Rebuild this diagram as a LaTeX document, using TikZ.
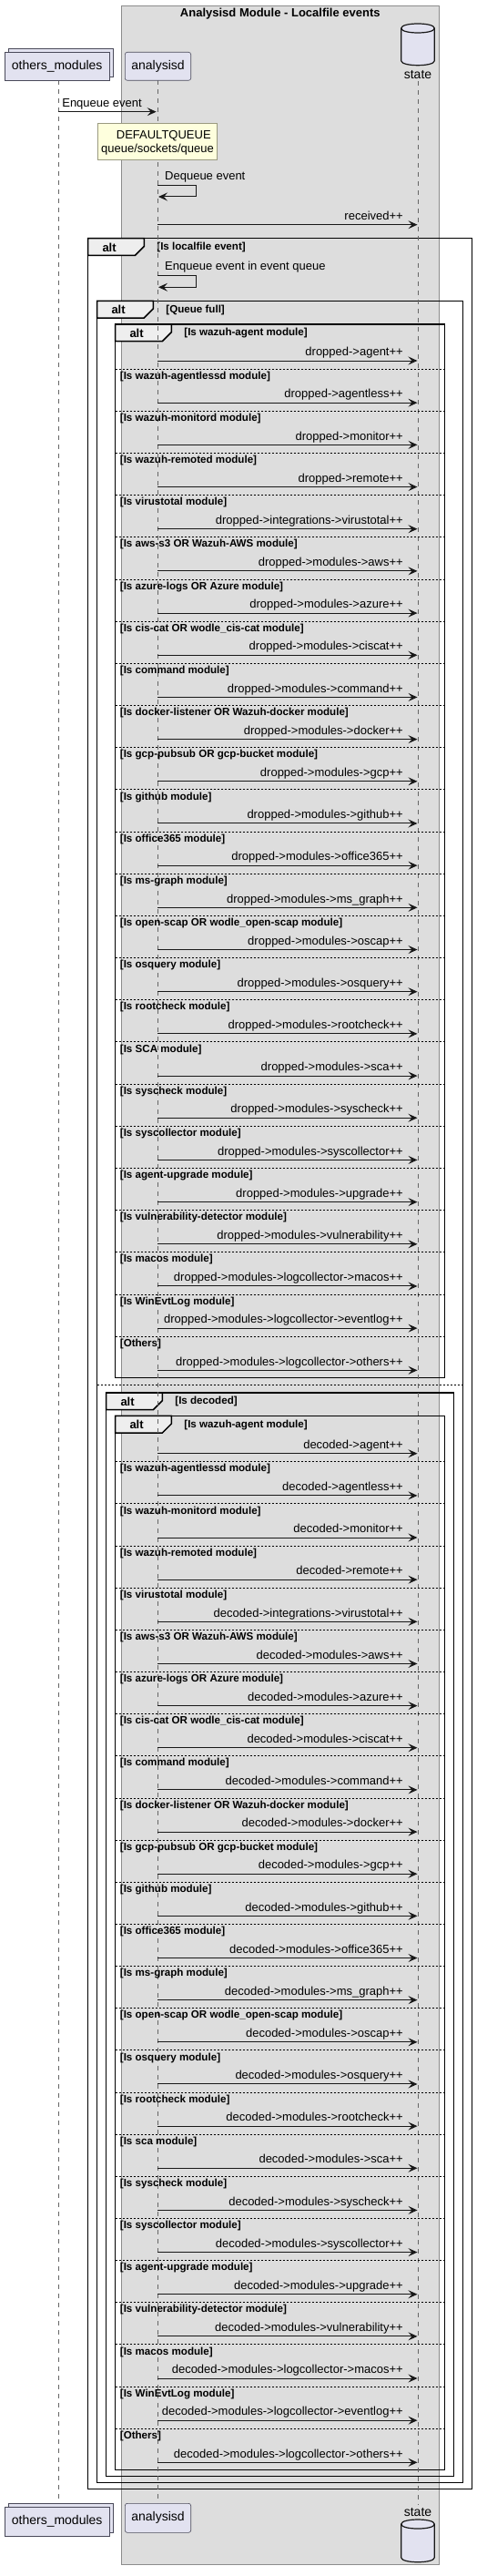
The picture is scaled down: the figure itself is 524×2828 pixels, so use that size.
\documentclass[tikz,border=0pt]{standalone}
\usepackage{fontspec}
\setmainfont{Liberation Sans}
\usetikzlibrary{arrows.meta}
\definecolor{boxbg}{HTML}{DDDDDD}
\definecolor{boxline}{HTML}{8C8C8C}
\definecolor{partfill}{HTML}{E2E2F0}
\definecolor{partline}{HTML}{4A4A5A}
\definecolor{notefill}{HTML}{FEFFDD}
\definecolor{noteline}{HTML}{9A9A80}
\definecolor{tabfill}{HTML}{EEEEEE}
\definecolor{inkc}{HTML}{181818}
\newcommand\msgfont{\fontsize{13}{15}\selectfont}
\newcommand\partfont{\fontsize{14}{16}\selectfont}
\newcommand\condfont{\fontsize{11.6}{13}\selectfont\bfseries}
\newcommand\altfont{\fontsize{13}{15}\selectfont\bfseries}
\tikzset{
 msgline/.style={draw=inkc, line width=1pt, -{Stealth[length=10pt,width=9pt,inset=4pt]}},
 msglabel/.style={inner sep=0pt, font=\msgfont, text=black},
 condtxt/.style={inner sep=0pt, font=\condfont},
 alttxt/.style={inner sep=0pt, font=\altfont},
 altframe/.style={draw=black, line width=1.5pt},
 tabshape/.style={fill=tabfill, draw=black, line width=1.5pt, line join=miter},
 sepline/.style={draw=black, line width=0.8pt, dash pattern=on 2pt off 2pt},
 lifeline/.style={draw=black!60, line width=0.8pt, dash pattern=on 5pt off 5pt},
 partbox/.style={draw=partline, fill=partfill, line width=0.6pt, inner sep=0pt, font=\partfont},
 dbshape/.style={draw=inkc, fill=partfill, line width=1.2pt},
}
% alt frame: L, T, R, B, condition, name
\newcommand\altbox[6]{%
  \draw[altframe] (#1,#2) rectangle (#3,#4);
  \draw[tabshape] (#1,#2) -- (#1+61.6,#2) -- (#1+61.6,#2+8.7) -- (#1+51.6,#2+18.7) -- (#1,#2+18.7) -- cycle;
  \node[alttxt, anchor=base west] (#6alt) at (#1+15.6,#2+14.5) {alt};
  \node[condtxt, anchor=base west] (#6cond) at (#1+75.5,#2+12.8) {[#5]};
}
% block of messages: prefix, word, y0, period, sca text
\newcommand\msgblock[5]{%
 \foreach \lab/\cond [count=\i from 0] in {%
   {agent++}/{Is wazuh-agent module},
   {agentless++}/{Is wazuh-agentlessd module},
   {monitor++}/{Is wazuh-monitord module},
   {remote++}/{Is wazuh-remoted module},
   {integrations->virustotal++}/{Is virustotal module},
   {modules->aws++}/{Is aws-s3 OR Wazuh-AWS module},
   {modules->azure++}/{Is azure-logs OR Azure module},
   {modules->ciscat++}/{Is cis-cat OR wodle\_cis-cat module},
   {modules->command++}/{Is command module},
   {modules->docker++}/{Is docker-listener OR Wazuh-docker module},
   {modules->gcp++}/{Is gcp-pubsub OR gcp-bucket module},
   {modules->github++}/{Is github module},
   {modules->office365++}/{Is office365 module},
   {modules->ms\_graph++}/{Is ms-graph module},
   {modules->oscap++}/{Is open-scap OR wodle\_open-scap module},
   {modules->osquery++}/{Is osquery module},
   {modules->rootcheck++}/{Is rootcheck module},
   {modules->sca++}/{Is #5 module},
   {modules->syscheck++}/{Is syscheck module},
   {modules->syscollector++}/{Is syscollector module},
   {modules->upgrade++}/{Is agent-upgrade module},
   {modules->vulnerability++}/{Is vulnerability-detector module},
   {modules->logcollector->macos++}/{Is macos module},
   {modules->logcollector->eventlog++}/{Is WinEvtLog module},
   {modules->logcollector->others++}/{Others}%
 }{%
   \pgfmathsetmacro\myy{#3+#4*\i}%
   \coordinate (#1a\i) at (173,\myy);
   \coordinate (#1b\i) at (458.5,\myy);
   \draw[msgline] (#1a\i) -- (#1b\i);
   \node[msglabel, anchor=base east] (#1l\i) at (443,\myy-5.3) {#2->\lab};
   \ifnum\i>0
     \pgfmathsetmacro\mys{\myy-#4+9}%
     \coordinate (#1p\i) at (126.7,\mys);
     \coordinate (#1q\i) at (488.7,\mys);
     \draw[sepline] (#1p\i) -- (#1q\i);
     \node[condtxt, anchor=base west] (#1c\i) at (131.7,\mys+11.2) {[\cond]};
   \fi
 }%
}
\begin{document}
\begin{tikzpicture}[x=1pt,y=-1pt]
\useasboundingbox (0,0) rectangle (524,2828);
\fill[white] (0,0) rectangle (524,2828);
% group box
\path[fill=boxbg, draw=boxline, line width=0.8pt] (133.3,6) rectangle (482.3,2815.7);
\node[alttxt] (title) at (307.8,15) {Analysisd Module - Localfile events};

% alt frames
\altbox{96.7}{261.7}{518.3}{2732.3}{Is localfile event}{fLF}
\altbox{106.7}{330.3}{508.3}{2725.7}{Queue full}{fQF}
\altbox{126.7}{356}{488.7}{1512.3}{Is wazuh-agent module}{fIA}
\coordinate (qfsepL) at (106.7,1520.7);
\coordinate (qfsepR) at (508.3,1520.7);
\draw[sepline] (qfsepL) -- (qfsepR);
\altbox{116.7}{1529}{498.3}{2718.7}{Is decoded}{fDC}
\altbox{126.7}{1554.3}{488.7}{2711.7}{Is wazuh-agent module}{fIB}

% lifelines
\coordinate (omTop) at (64.3,88);
\coordinate (omBot) at (64.3,2748.3);
\coordinate (anTop) at (173,88.3);
\coordinate (anBot) at (173,2748.3);
\coordinate (stTop) at (459.3,89);
\coordinate (stBot) at (459.3,2750);
\draw[lifeline] (omTop) -- (omBot);
\draw[lifeline] (anTop) -- (anBot);
\draw[lifeline] (stTop) -- (stBot);

% participants top
\node[partbox, minimum width=114.7pt, minimum height=31pt] (omTback) at (66.65,68.5) {};
\node[partbox, minimum width=114.7pt, minimum height=31pt] (omT) at (62.65,72.5) {others\_modules};
\node[partbox, rounded corners=2.5pt, minimum width=72.4pt, minimum height=31pt] (anT) at (173.5,72.8) {analysisd};
\path[dbshape] (440.7,31) -- (440.7,66.7) .. controls (440.7,73.37) and (477.3,73.37) .. (477.3,66.7) -- (477.3,31) .. controls (477.3,24.33) and (440.7,24.33) .. (440.7,31) -- cycle;
\draw[dbshape, fill=none] (440.7,31) .. controls (440.7,37.67) and (477.3,37.67) .. (477.3,31);
\node[msglabel, font=\partfont] (stT) at (459,82) {state};

% participants bottom
\node[partbox, minimum width=114.7pt, minimum height=31.7pt] (omBback) at (66.65,2764.15) {};
\node[partbox, minimum width=114.7pt, minimum height=31.7pt] (omB) at (62.65,2768.15) {others\_modules};
\node[partbox, rounded corners=2.5pt, minimum width=72.4pt, minimum height=32pt] (anB) at (173.5,2764.3) {analysisd};
\node[msglabel, font=\partfont] (stB) at (459,2758) {state};
\path[dbshape] (440.7,2771) -- (440.7,2807.7) .. controls (440.7,2814.37) and (477.3,2814.37) .. (477.3,2807.7) -- (477.3,2771) .. controls (477.3,2764.33) and (440.7,2764.33) .. (440.7,2771) -- cycle;
\draw[dbshape, fill=none] (440.7,2771) .. controls (440.7,2777.67) and (477.3,2777.67) .. (477.3,2771);

% first messages
\coordinate (enqS) at (64.3,122.7);
\coordinate (enqT) at (171.7,122.7);
\draw[msgline] (enqS) -- (enqT);
\node[msglabel, anchor=base east] (enqL) at (156,117.4) {Enqueue event};

% note
\node[draw=noteline, fill=notefill, line width=0.6pt, minimum width=131.7pt, minimum height=40pt, inner sep=0pt] (note) at (172.85,155.3) {};
\node[msglabel, anchor=base west] (note1) at (127.7,152.7) {DEFAULTQUEUE};
\node[msglabel, anchor=base west] (note2) at (111,168) {queue/sockets/queue};

% dequeue self message
\coordinate (deqA) at (173,203.3);
\coordinate (deqB) at (215,203.3);
\coordinate (deqC) at (215,216);
\coordinate (deqD) at (174,216);
\draw[msgline] (deqA) -- (deqB) -- (deqC) -- (deqD);
\node[msglabel, anchor=base west] (deqL) at (181,197.8) {Dequeue event};

% received
\coordinate (rcvA) at (173,246.7);
\coordinate (rcvB) at (458.5,246.7);
\draw[msgline] (rcvA) -- (rcvB);
\node[msglabel, anchor=base east] (rcvL) at (443,241.4) {received++};

% enqueue in event queue self message
\coordinate (eqA) at (173,302.3);
\coordinate (eqB) at (215,302.3);
\coordinate (eqC) at (215,315.3);
\coordinate (eqD) at (174,315.3);
\draw[msgline] (eqA) -- (eqB) -- (eqC) -- (eqD);
\node[msglabel, anchor=base west] (eqL) at (181,296.8) {Enqueue event in event queue};

% blocks
\msgblock{B1}{dropped}{396}{46.18}{SCA}
\msgblock{B2}{decoded}{1595.7}{46.15}{sca}
\end{tikzpicture}
\end{document}
